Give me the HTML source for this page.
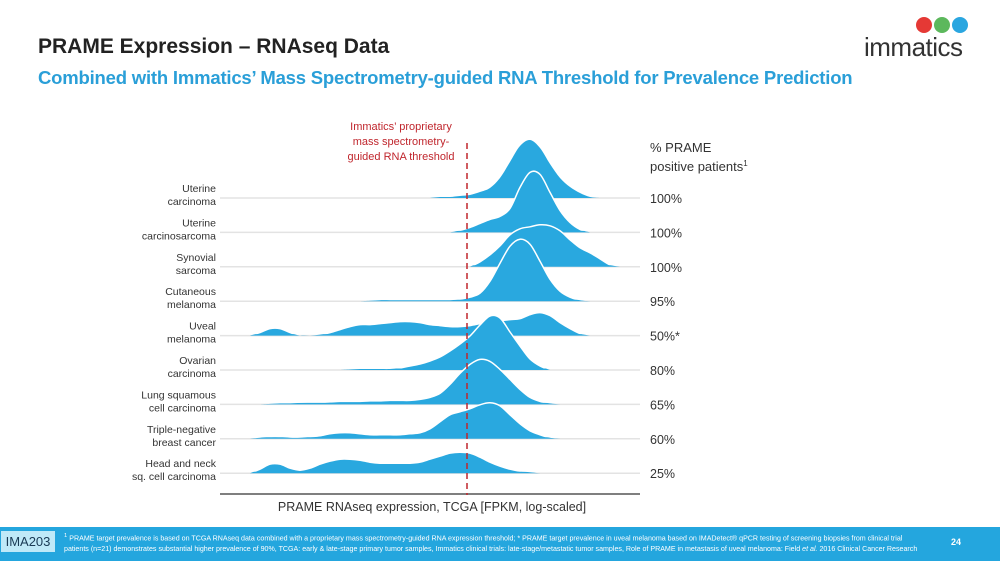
<!DOCTYPE html>
<html><head><meta charset="utf-8"><style>
body{margin:0;width:1000px;height:561px;overflow:hidden;background:#fff;font-family:"Liberation Sans",sans-serif;position:relative}
.t{position:absolute;white-space:nowrap}
</style></head><body>
<div class="t" style="left:38px;top:35px;font-size:21px;font-weight:bold;color:#222">PRAME Expression – RNAseq Data</div>
<div class="t" style="left:38px;top:67px;font-size:18.5px;font-weight:bold;color:#2a9fd8;letter-spacing:-0.2px">Combined with Immatics’ Mass Spectrometry-guided RNA Threshold for Prevalence Prediction</div>
<svg style="position:absolute;left:860px;top:14px" width="115" height="48">
<circle cx="64" cy="11" r="8" fill="#e53935"/><circle cx="82" cy="11" r="8" fill="#5cb85c"/><circle cx="100" cy="11" r="8" fill="#2aa6e0"/>
<text x="4" y="42" font-size="26" font-family="Liberation Sans" fill="#333" letter-spacing="-0.5">immatics</text></svg>
<svg id="chart" width="1000" height="561" style="position:absolute;left:0;top:0"></svg>
<div style="position:absolute;left:0;top:527px;width:1000px;height:34px;background:#24a6de"></div>
<div class="t" style="left:1px;top:531px;width:54px;height:21px;background:#bfe9f8;color:#1a3a55;font-size:13px;line-height:21px;text-align:center">IMA203</div>
<div class="t" style="left:64px;top:531px;font-size:7.1px;line-height:11px;color:#fff"><sup>1</sup> PRAME target prevalence is based on TCGA RNAseq data combined with a proprietary mass spectrometry-guided RNA expression threshold; * PRAME target prevalence in uveal melanoma based on IMADetect® qPCR testing of screening biopsies from clinical trial<br>patients (n=21) demonstrates substantial higher prevalence of 90%, TCGA: early &amp; late-stage primary tumor samples, Immatics clinical trials: late-stage/metastatic tumor samples, Role of PRAME in metastasis of uveal melanoma: Field <i>et al.</i> 2016 Clinical Cancer Research</div>
<div class="t" style="left:951px;top:537px;font-size:9px;font-weight:bold;color:#fff">24</div>
<script>
const cancers=[["Uterine","carcinoma"],["Uterine","carcinosarcoma"],["Synovial","sarcoma"],["Cutaneous","melanoma"],["Uveal","melanoma"],["Ovarian","carcinoma"],["Lung squamous","cell carcinoma"],["Triple-negative","breast cancer"],["Head and neck","sq. cell carcinoma"]];
const prevalence=["100%","100%","100%","95%","50%*","80%","65%","60%","25%"];
const starts=[21,23,25,14,3,12,4,3,3];
const dens=[
[0,1,1,2,3,6,10,20,36,52,58,50,34,20,11,5,1,0],
[0,2,5,9,13,16,24,45,60,58,40,22,10,3,0],
[0,5,12,21,32,38,40,42,41,36,27,19,14,8,2,0],
[0,0.5,1,1,1,1,1,1,1,1,2,4,8,20,38,55,62,57,40,22,10,4,1,0],
[0,3,7,7,3,0,0,1,3,6,9,11,11,12,13,14,14,13,11,10,9,9,10,12,14,15,16,17,21,23,20,13,7,2,0],
[0,0.5,1,1,1,1,2,4,6,9,13,19,26,34,45,54,52,38,24,11,4,0],
[0,0.5,1,1,1.5,2,2,2.5,3,3,3,3.5,3.5,4,4,4,5,7,11,20,31,40,45,43,35,25,15,7,3,1,0],
[0,1,2,2,1,1,2,3,5,6,6,5,4,4,4,4,5,6,10,17,24,27,30,34,36,33,24,15,8,4,1,0],
[0,4,9,9,5,3,5,9,12,14,14,13,11,10,10,10,10,11,14,17,20,21,20,16,11,7,4,2,1,0]];
const threshold=24.7;
const NS="http://www.w3.org/2000/svg",svg=document.getElementById("chart");
const X0=220,X1=640,xUnit=10,rowTop=198,rowGap=34.4,hScale=1;
const xs=e=>X0+e*xUnit, base=i=>rowTop+i*rowGap;
function mk(t,a,p){const el=document.createElementNS(NS,t);for(const k in a)el.setAttribute(k,a[k]);(p||svg).appendChild(el);return el;}
function txt(x,y,s,o){const t=mk("text",Object.assign({x:x,y:y,"font-family":"Liberation Sans, sans-serif"},o));t.textContent=s;return t;}
function smooth(pts){let d="M"+pts[0][0]+","+pts[0][1];for(let i=0;i<pts.length-1;i++){const p0=pts[i-1]||pts[i],p1=pts[i],p2=pts[i+1],p3=pts[i+2]||p2;
d+=" C"+(p1[0]+(p2[0]-p0[0])/6)+","+(p1[1]+(p2[1]-p0[1])/6)+" "+(p2[0]-(p3[0]-p1[0])/6)+","+(p2[1]-(p3[1]-p1[1])/6)+" "+p2[0]+","+p2[1];}return d;}
cancers.forEach((c,i)=>{const b=base(i);
const ln=mk("line",{x1:X0,x2:X1,y1:b,y2:b,stroke:"#e3e3e3","stroke-width":1.5});
});
dens.forEach((arr,i)=>{const b=base(i);const pts=arr.map((v,j)=>[xs(starts[i]+j),b-v*hScale]);
const d=smooth(pts);
const f=mk("path",{d:d+" Z",fill:"#29a8df"});

if(i>0){mk("path",{d:d,fill:"none",stroke:"#fff","stroke-width":1.5,"clip-path":"url(#clip"+i+")"});
const cp=mk("clipPath",{id:"clip"+i});mk("rect",{x:0,y:0,width:1000,height:b-1.5},cp);}
const l=txt(216,b-6,cancers[i][0],{"font-size":"10.5","text-anchor":"end",fill:"#333"});

txt(216,b+7,cancers[i][1],{"font-size":"10.5","text-anchor":"end",fill:"#333"});
const p=txt(650,b+5,prevalence[i],{"font-size":"12.5",fill:"#333"});
});
const ax=mk("line",{x1:X0,x2:X1,y1:494,y2:494,stroke:"#7f7f7f","stroke-width":2});

const th=mk("line",{x1:xs(threshold),x2:xs(threshold),y1:143,y2:495,stroke:"#c0262d","stroke-width":1.5,"stroke-dasharray":"6,4"});

["Immatics’ proprietary","mass spectrometry-","guided RNA threshold"].forEach((s,k)=>{const t=txt(401,130+k*15,s,{"font-size":"11","text-anchor":"middle",fill:"#c0262d"});
});
const xt=txt(432,511,"PRAME RNAseq expression, TCGA [FPKM, log-scaled]",{"font-size":"12.5","text-anchor":"middle",fill:"#333"});

const h1=txt(650,152,"% PRAME",{"font-size":"13",fill:"#333"});

const h2=txt(650,171,"positive patients",{"font-size":"13",fill:"#333"});
const sp=mk("tspan",{dy:"-5","font-size":"8"},h2);sp.textContent="1";
</script>
</body></html>
